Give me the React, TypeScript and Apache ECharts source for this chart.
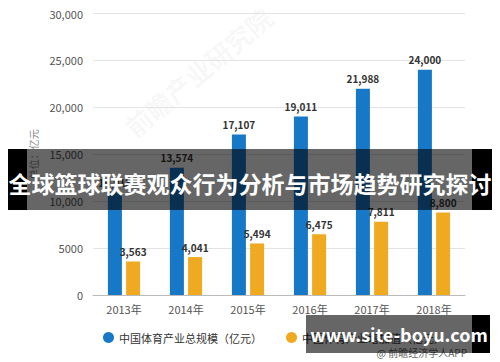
import React, { useEffect, useRef } from "react";
import * as echarts from "echarts";

const categories = ["2013年", "2014年", "2015年", "2016年", "2017年", "2018年"];
const totalScale = [10913, 13574, 17107, 19011, 21988, 24000];
const addedValue = [3563, 4041, 5494, 6475, 7811, 8800];
const seriesNames = ["中国体育产业总规模（亿元）", "中国体育产业增加值（亿元）"];
const bannerTitle = "全球篮球联赛观众行为分析与市场趋势研究探讨";
const siteText = "www.site-boyu.com";
const sourceText = "@ 前瞻经济学人APP";
const watermarkText = "前瞻产业研究院";

const fmt = (v: number) => (v >= 10000 ? v.toLocaleString("en-US") : String(v));

export default function App() {
  const ref = useRef<HTMLDivElement>(null);
  useEffect(() => {
    if (!ref.current) return;
    const chart = echarts.init(ref.current, null, { renderer: "svg" });
    const font = "'Noto Sans CJK SC', 'Noto Sans', sans-serif";
    chart.setOption({
      animation: false,
      textStyle: { fontFamily: font },
      grid: { left: 85, right: 27, top: 5, bottom: 67 },
      legend: {
        left: 90,
        top: 319,
        icon: "circle",
        itemWidth: 11,
        itemHeight: 11,
        itemGap: 24,
        textStyle: { fontSize: 11, color: "#333", fontFamily: font },
        data: seriesNames,
      },
      xAxis: {
        type: "category",
        data: categories,
        axisLine: { lineStyle: { color: "#bbb" } },
        axisTick: { alignWithLabel: true, lineStyle: { color: "#999" }, length: 4 },
        axisLabel: { color: "#555", fontSize: 11, margin: 8 },
      },
      yAxis: {
        type: "value",
        min: 0,
        max: 30000,
        interval: 5000,
        name: "单位：亿元",
        nameLocation: "middle",
        nameRotate: 90,
        nameGap: 48,
        nameTextStyle: { color: "#888", fontSize: 10 },
        axisLine: { show: false },
        axisTick: { show: false },
        axisLabel: { color: "#555", fontSize: 11, formatter: fmt, margin: 10 },
        splitLine: { lineStyle: { color: "#e3e3e3" } },
      },
      series: [
        {
          name: seriesNames[0],
          type: "bar",
          data: totalScale,
          barWidth: 14,
          barGap: "30%",
          itemStyle: { color: "#1878c8" },
          label: {
            show: true,
            position: "top",
            formatter: (p: any) => Number(p.value).toLocaleString("en-US"),
            color: "#333",
            fontWeight: "bold",
            fontSize: 10,
          },
        },
        {
          name: seriesNames[1],
          type: "bar",
          data: addedValue,
          barWidth: 14,
          itemStyle: { color: "#f0aa22" },
          label: {
            show: true,
            position: "top",
            formatter: (p: any) => Number(p.value).toLocaleString("en-US"),
            color: "#333",
            fontWeight: "bold",
            fontSize: 10,
          },
        },
      ],
      graphic: [
        {
          type: "text",
          x: 112,
          y: 112,
          rotation: (40 * Math.PI) / 180,
          style: { text: watermarkText, fontSize: 26, fontWeight: "bold", fill: "rgba(0,0,0,0.045)", fontFamily: font },
          z: 0,
        },
        {
          type: "rect",
          shape: { x: 0, y: 141, width: 19, height: 61 },
          style: { fill: "#000" },
          z: 100,
        },
        {
          type: "rect",
          shape: { x: 19, y: 141, width: 445, height: 61 },
          style: { fill: "rgba(0,0,0,0.6)" },
          z: 100,
        },
        {
          type: "rect",
          shape: { x: 464, y: 141, width: 20, height: 61 },
          style: { fill: "#000" },
          z: 100,
        },
        {
          type: "text",
          x: 242,
          y: 175,
          style: {
            text: bannerTitle,
            fontSize: 23,
            fontWeight: "bold",
            fill: "#fff",
            align: "center",
            verticalAlign: "middle",
            fontFamily: font,
          },
          z: 101,
        },
        {
          type: "text",
          x: 459,
          y: 344,
          style: { text: sourceText, fontSize: 10, fill: "#666", align: "right", verticalAlign: "middle", fontFamily: font },
          z: 50,
        },
        {
          type: "rect",
          shape: { x: 298, y: 307, width: 166, height: 38 },
          style: { fill: "rgba(0,0,0,0.6)" },
          z: 100,
        },
        {
          type: "rect",
          shape: { x: 464, y: 307, width: 18, height: 38 },
          style: { fill: "#000" },
          z: 100,
        },
        {
          type: "text",
          x: 391,
          y: 326,
          style: {
            text: siteText,
            fontSize: 18,
            fontWeight: "bold",
            fill: "#fff",
            align: "center",
            verticalAlign: "middle",
            fontFamily: font,
          },
          z: 101,
        },
      ],
    });
    return () => chart.dispose();
  }, []);
  return <div ref={ref} style={{ width: 484, height: 354 }} />;
}
